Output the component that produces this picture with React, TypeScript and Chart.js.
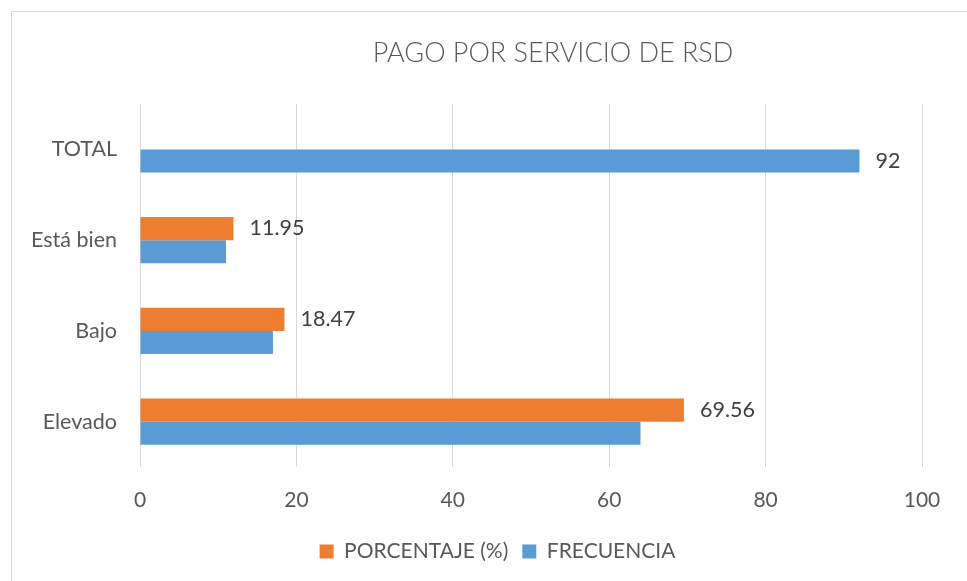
import React, { useEffect, useRef } from "react";
import { Chart, registerables } from "chart.js";

Chart.register(...registerables);

const categories = ["TOTAL", "Está bien", "Bajo", "Elevado"];
const porcentajeValues: (number | null)[] = [null, 11.95, 18.47, 69.56];
const frecuenciaValues: (number | null)[] = [92, 11, 17, 64];
const porcentajeShowLabel = [false, true, true, true];
const frecuenciaShowLabel = [true, false, false, false];
const xTicks = [0, 20, 40, 60, 80, 100];
const titleText = "PAGO POR SERVICIO DE RSD";
const seriesNames = ["PORCENTAJE (%)", "FRECUENCIA"];

const FONT = "Lato, 'Open Sans', sans-serif";
const TEXT = "#595959";

export default function App() {
  const ref = useRef<HTMLCanvasElement | null>(null);

  useEffect(() => {
    document.body.style.margin = "0";
    const canvas = ref.current;
    if (!canvas) return;

    const labelPlugin = {
      id: "valueLabels",
      afterDatasetsDraw(chart: any) {
        const ctx = chart.ctx;
        const flags = [porcentajeShowLabel, frecuenciaShowLabel];
        ctx.save();
        ctx.font = `21.5px ${FONT}`;
        ctx.fillStyle = "#404040";
        ctx.textBaseline = "middle";
        ctx.textAlign = "left";
        chart.data.datasets.forEach((ds: any, di: number) => {
          const meta = chart.getDatasetMeta(di);
          meta.data.forEach((el: any, i: number) => {
            const v = ds.data[i];
            if (v == null || !flags[di][i]) return;
            ctx.fillText(String(v), el.x + 16, el.y);
          });
        });
        ctx.restore();
      },
    };

    const titlePlugin = {
      id: "customTitle",
      afterDraw(chart: any) {
        const ctx = chart.ctx;
        ctx.save();
        ctx.font = `300 27px ${FONT}`;
        ctx.fillStyle = TEXT;
        ctx.textAlign = "center";
        ctx.textBaseline = "middle";
        ctx.fillText(titleText, 553, 53);
        ctx.restore();
      },
    };

    const legendShift = {
      id: "legendShift",
      afterLayout(chart: any) {
        const lg = chart.legend;
        if (lg) {
          lg.left += 31;
          lg.right += 31;
        }
      },
    };

    const chart = new Chart(canvas, {
      type: "bar",
      data: {
        labels: categories,
        datasets: [
          {
            label: seriesNames[0],
            data: porcentajeValues,
            backgroundColor: "#ED7D31",
            borderWidth: 0,
          },
          {
            label: seriesNames[1],
            data: frecuenciaValues,
            backgroundColor: "#5B9BD5",
            borderWidth: 0,
          },
        ],
      },
      options: {
        indexAxis: "y",
        responsive: false,
        animation: false,
        layout: { padding: { left: 11, right: 45, top: 104, bottom: 9 } },
        datasets: {
          bar: { barPercentage: 1, categoryPercentage: 0.51 },
        },
        scales: {
          x: {
            min: 0,
            max: 100,
            afterBuildTicks: (scale: any) => {
              scale.ticks = xTicks.map((v) => ({ value: v }));
            },
            afterFit: (scale: any) => {
              scale.height = 60;
            },
            grid: { color: "#d9d9d9", lineWidth: 1, drawTicks: false },
            border: { display: false },
            ticks: {
              padding: 21,
              color: TEXT,
              font: { family: FONT, size: 21 },
            },
          },
          y: {
            afterFit: (scale: any) => {
              scale.width = 129;
            },
            grid: { display: false, drawTicks: false },
            border: { display: false },
            ticks: {
              padding: 23,
              color: TEXT,
              font: { family: FONT, size: 21.5 },
            },
          },
        },
        plugins: {
          title: { display: false },
          tooltip: { enabled: false },
          legend: {
            position: "bottom",
            labels: {
              boxWidth: 14,
              boxHeight: 14,
              color: TEXT,
              padding: 14,
              font: { family: FONT, size: 21 },
            },
          },
        },
      },
      plugins: [labelPlugin, titlePlugin, legendShift],
    });

    return () => chart.destroy();
  }, []);

  return (
    <div style={{ position: "relative", width: 967, height: 581, background: "#fff" }}>
      <canvas ref={ref} width={967} height={581} style={{ position: "absolute", left: 0, top: 0 }} />
      <div
        style={{
          position: "absolute",
          left: 11,
          top: 11,
          width: 980,
          height: 600,
          border: "1px solid #d9d9d9",
          pointerEvents: "none",
          boxSizing: "border-box",
        }}
      />
    </div>
  );
}
